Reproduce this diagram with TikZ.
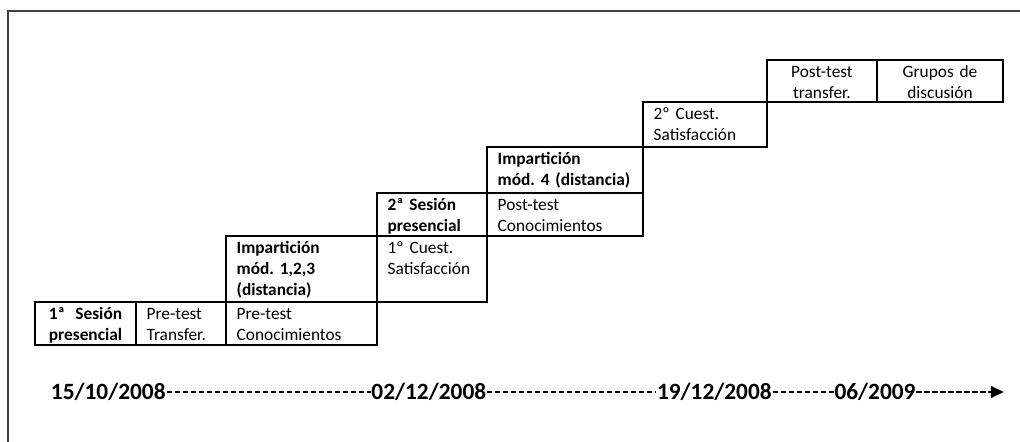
\documentclass[tikz,border=0pt]{standalone}
\usepackage{fontspec}
\setmainfont{Carlito}
\usetikzlibrary{arrows.meta, positioning}
\newlength{\preswd}
\hyphenpenalty=10000
\frenchspacing

\begin{document}
\begin{tikzpicture}[
    x=0.75pt, y=0.75pt,
    cell/.style={rectangle, draw, line width=1.1pt, outer sep=0pt, inner xsep=8pt, inner ysep=0pt, text height=12.9pt, align=left, font=\fontsize{13}{16}\selectfont},
    boldcell/.style={cell, font=\fontsize{13}{16}\selectfont\bfseries},
    datelabel/.style={inner xsep=0.5pt, inner ysep=0pt, text height=11pt, text depth=0pt, font=\fontsize{17.5}{20}\selectfont\bfseries},
    timeline/.style={line width=1.4pt, dash pattern=on 3.8pt off 2.2pt},
    arrow/.style={timeline, -{Triangle[length=9.75pt, width=9pt]}}
]
\useasboundingbox (0,0) rectangle (1020,442);
\draw [line width=0.9pt, black!75] (8,0) -- (8,431) -- (1020,431);

\node (ses1) [boldcell, text width=59.75pt, text depth=19.35pt, align=center, anchor=north west] at (35,140) {\settowidth{\preswd}{presencial}\makebox[\preswd][s]{1ª\hfill Sesión}\\presencial};
\node (pretr) [cell, text width=51.5pt, text depth=19.35pt, right=0pt of ses1] {Pre-test\\Transfer.};
\node (preconoc) [cell, text width=97.25pt, text depth=19.35pt, right=0pt of pretr] {Pre-test\\Conocimientos};
\node (imp123) [boldcell, text width=97.25pt, text depth=36.6pt, above=0pt of preconoc] {Impartición\\mód. 1,2,3\\(distancia)};
\node (cuest1) [cell, text width=66.5pt, text depth=36.6pt, right=0pt of imp123] {1º Cuest.\\Satisfacción};
\node (ses2) [boldcell, text width=66.5pt, text depth=19.35pt, above=0pt of cuest1] {2ª Sesión\\presencial};
\node (postconoc) [cell, text width=101pt, text depth=19.35pt, right=0pt of ses2] {Post-test\\Conocimientos};
\node (imp4) [boldcell, text width=101pt, text depth=21.6pt, above=0pt of postconoc] {Impartición\\mód. 4 (distancia)};
\node (cuest2) [cell, text width=77pt, text depth=20.85pt, above right=0pt and 0pt of imp4] {2º Cuest.\\Satisfacción};
\node (posttr) [cell, text width=66.5pt, text depth=18.6pt, align=center, above right=0pt and 0pt of cuest2] {Post-test\\transfer.};
\node (grupos) [cell, text width=78.5pt, text depth=18.6pt, align=center, right=0pt of posttr] {Grupos de\\discusión};

\node (d1) [datelabel, anchor=west] at (50,50) {15/10/2008};
\node (d2) [datelabel, right=153pt of d1] {02/12/2008};
\node (d3) [datelabel, right=126.75pt of d2] {19/12/2008};
\node (d4) [datelabel, right=45.75pt of d3] {06/2009};
\coordinate [right=65.5pt of d4] (tlend);

\draw [timeline] (d1) -- (d2);
\draw [timeline] (d2) -- (d3);
\draw [timeline] (d3) -- (d4);
\draw [arrow] (d4) -- (tlend);

\end{tikzpicture}
\end{document}
